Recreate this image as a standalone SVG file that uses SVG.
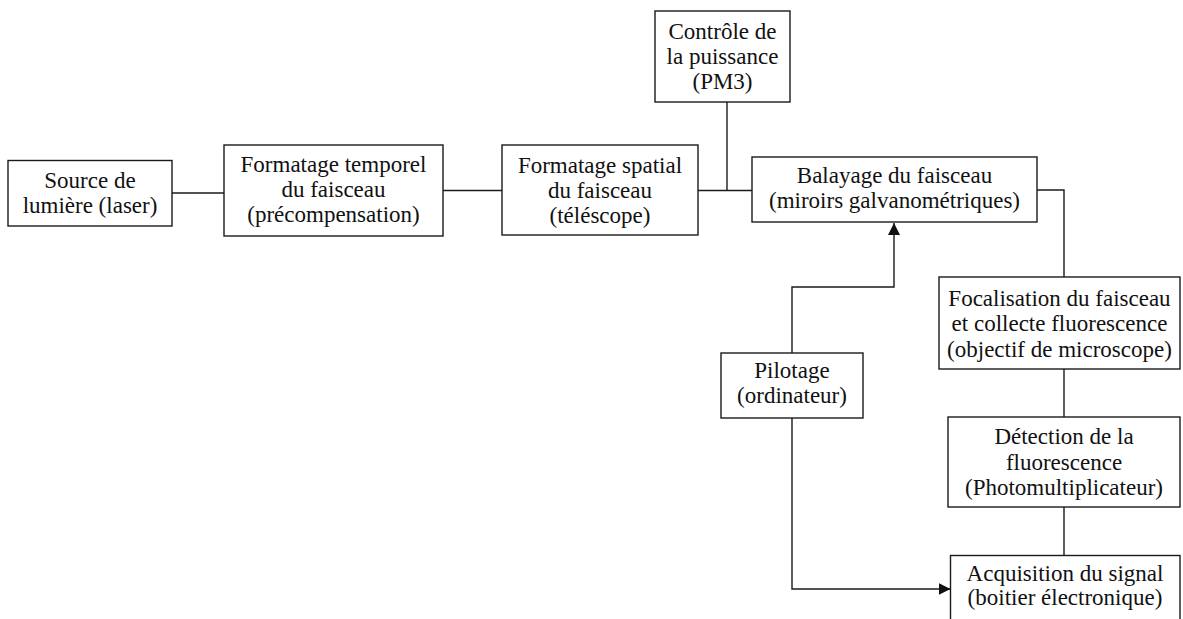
<svg xmlns="http://www.w3.org/2000/svg" width="1183" height="619" viewBox="0 0 1183 619">
<defs>
<style>
.box{fill:#fff;stroke:#1a1a1a;stroke-width:1.4}
.lbl{font-family:"Liberation Serif","Times New Roman",serif;font-size:23px;fill:#111;text-anchor:middle}
.con{fill:none;stroke:#1a1a1a;stroke-width:1.4}
</style>
<marker id="arr" viewBox="0 0 12 12" refX="12" refY="6" markerWidth="12" markerHeight="12" markerUnits="userSpaceOnUse" orient="auto">
<path d="M0,0 L12,6 L0,12 Z" fill="#111"/>
</marker>
</defs>
<rect width="1183" height="619" fill="#fff"/>
<g id="connectors">
<path class="con" d="M172,193 H224"/>
<path class="con" d="M443,190.5 H502"/>
<path class="con" d="M698,190.5 H752"/>
<path class="con" d="M727,102 V190.5"/>
<path class="con" d="M1037,190 H1064 V277"/>
<path class="con" d="M1064,369 V417"/>
<path class="con" d="M1064,507 V555.5"/>
<path class="con" d="M792,353 V287 H894 V223" marker-end="url(#arr)"/>
<path class="con" d="M792,418 V589 H950.5" marker-end="url(#arr)"/>
</g>
<g id="source">
<rect class="box" x="8" y="160.5" width="164" height="65.5"/>
<text class="lbl" x="90" y="188">Source de</text>
<text class="lbl" x="90" y="213">lumière (laser)</text>
</g>
<g id="temporel">
<rect class="box" x="224" y="145" width="219" height="91"/>
<text class="lbl" x="333.5" y="172">Formatage temporel</text>
<text class="lbl" x="333.5" y="197">du faisceau</text>
<text class="lbl" x="333.5" y="222">(précompensation)</text>
</g>
<g id="spatial">
<rect class="box" x="502" y="145" width="196" height="90"/>
<text class="lbl" x="600" y="172.5">Formatage spatial</text>
<text class="lbl" x="600" y="197.5">du faisceau</text>
<text class="lbl" x="600" y="222.5">(téléscope)</text>
</g>
<g id="controle">
<rect class="box" x="655" y="11" width="135" height="91"/>
<text class="lbl" x="722.5" y="39">Contrôle de</text>
<text class="lbl" x="722.5" y="64">la puissance</text>
<text class="lbl" x="722.5" y="89">(PM3)</text>
</g>
<g id="balayage">
<rect class="box" x="752" y="157" width="285" height="65"/>
<text class="lbl" x="894.5" y="183">Balayage du faisceau</text>
<text class="lbl" x="894.5" y="208">(miroirs galvanométriques)</text>
</g>
<g id="focalisation">
<rect class="box" x="939" y="277" width="241" height="92"/>
<text class="lbl" x="1059.5" y="305.5">Focalisation du faisceau</text>
<text class="lbl" x="1059.5" y="331">et collecte fluorescence</text>
<text class="lbl" x="1059.5" y="356.5">(objectif de microscope)</text>
</g>
<g id="pilotage">
<rect class="box" x="721" y="353" width="142" height="65"/>
<text class="lbl" x="792" y="378">Pilotage</text>
<text class="lbl" x="792" y="403">(ordinateur)</text>
</g>
<g id="detection">
<rect class="box" x="948" y="417" width="232" height="90"/>
<text class="lbl" x="1064" y="444">Détection de la</text>
<text class="lbl" x="1064" y="469.5">fluorescence</text>
<text class="lbl" x="1064" y="495">(Photomultiplicateur)</text>
</g>
<g id="acquisition">
<rect class="box" x="950.5" y="555.5" width="229.5" height="80"/>
<text class="lbl" x="1065" y="580.5">Acquisition du signal</text>
<text class="lbl" x="1065" y="605">(boitier électronique)</text>
</g>
</svg>
